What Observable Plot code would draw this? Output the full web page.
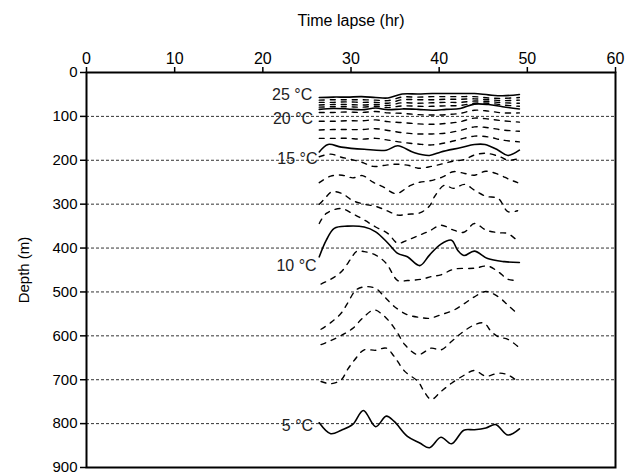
<!DOCTYPE html>
<html><head><meta charset="utf-8">
<script src="https://cdn.jsdelivr.net/npm/d3@7"></script>
<script src="https://cdn.jsdelivr.net/npm/@observablehq/plot@0.6"></script>
<style>body{margin:0;background:#fff} svg{display:block}</style>
</head><body><div id="chart"></div>
<script>
// Axis ticks
const xTicks = [0, 10, 20, 30, 40, 50, 60];
const yTicks = [0, 100, 200, 300, 400, 500, 600, 700, 800, 900];
const gridDepths = [100, 200, 300, 400, 500, 600, 700, 800];

// Isotherms 25..16 °C share the same sampling hours
const upperHours = [26.4, 28.0, 29.6, 31.2, 32.8, 34.2, 35.8, 37.6, 39.2, 40.8, 42.4, 44.0, 45.6, 47.2, 49.1];
const d25 = [57, 56, 56, 55, 57, 58, 49, 49, 48, 48, 48, 48, 51, 53, 50];
const d24 = [63, 62, 62, 62, 63, 64, 56, 56, 55, 55, 55, 55, 58, 59, 57];
const d23 = [68, 68, 67, 68, 68, 70, 62, 62, 62, 61, 61, 60, 62, 64, 63];
const d22 = [74, 73, 73, 74, 73, 75, 69, 70, 69, 68, 68, 65, 66, 69, 70];
const d21 = [79, 78, 78, 79, 77, 80, 76, 77, 77, 76, 75, 70, 70, 74, 77];
const d20 = [84, 82, 83, 85, 81, 85, 83, 84, 86, 84, 82, 72, 73, 78, 83];
const d19 = [91, 91, 90, 91, 89, 92, 93, 96, 97, 96, 93, 86, 88, 92, 92];
const d18 = [111, 111, 110, 110, 108, 112, 114, 117, 118, 116, 112, 104, 106, 110, 113];
const d17 = [131, 130, 130, 130, 128, 132, 137, 140, 140, 138, 132, 124, 126, 131, 134];
const d16 = [150, 150, 150, 152, 150, 154, 159, 163, 165, 160, 152, 145, 147, 154, 158];

// Deeper isotherms, each with its own hours
const h15 = [26.4, 27.4, 28.9, 31.5, 34.0, 35.3, 37.2, 38.9, 40.2, 42.5, 44.0, 45.2, 46.7, 47.8, 49.1];
const d15 = [181, 164, 170, 175, 177, 167, 183, 189, 181, 171, 164, 164, 177, 189, 177];
const h14 = [26.4, 27.7, 28.9, 30.2, 31.3, 32.5, 34.0, 35.2, 36.6, 37.6, 39.1, 40.4, 41.6, 42.9, 44.0, 45.3, 46.9, 47.8, 49.0];
const d14 = [192, 186, 193, 199, 205, 214, 211, 209, 212, 218, 214, 208, 202, 198, 188, 184, 192, 200, 196];
const h13 = [26.4, 27.7, 29.0, 30.2, 31.3, 32.5, 33.6, 35.1, 36.7, 37.8, 38.9, 40.4, 41.6, 42.9, 44.0, 45.3, 46.7, 48.0, 48.9];
const d13 = [251, 236, 234, 240, 235, 250, 260, 276, 258, 250, 247, 238, 226, 230, 234, 225, 232, 244, 251];
const h12 = [26.4, 27.0, 27.8, 29.0, 30.2, 31.5, 32.8, 34.2, 35.3, 36.4, 37.8, 38.9, 39.5, 40.6, 41.6, 42.9, 44.0, 45.3, 46.7, 47.8, 48.9];
const d12 = [300, 288, 272, 276, 292, 300, 305, 316, 325, 323, 320, 304, 282, 257, 264, 255, 268, 282, 287, 317, 315];
const h11 = [26.4, 27.2, 28.9, 30.2, 31.5, 32.8, 34.2, 35.3, 36.4, 37.6, 38.9, 40.2, 41.5, 42.8, 44.0, 45.3, 46.7, 47.8, 49.0];
const d11 = [344, 321, 310, 322, 336, 352, 367, 389, 382, 372, 361, 348, 358, 364, 344, 359, 365, 367, 386];
const h10 = [26.4, 27.2, 28.1, 29.6, 31.5, 32.8, 34.2, 35.3, 36.4, 37.8, 38.9, 40.2, 41.4, 42.1, 42.8, 44.0, 45.5, 47.4, 49.1];
const d10 = [420, 382, 355, 350, 352, 363, 389, 412, 420, 440, 416, 391, 382, 405, 417, 407, 424, 431, 433];
const h9 = [26.6, 27.7, 28.9, 30.0, 30.6, 31.5, 32.8, 34.0, 35.3, 36.4, 38.0, 39.1, 40.2, 41.7, 44.0, 45.5, 46.7, 47.8, 48.9];
const d9 = [482, 471, 454, 424, 408, 408, 416, 435, 474, 474, 471, 465, 461, 448, 446, 441, 454, 471, 474];
const h8 = [26.6, 27.7, 28.9, 29.6, 30.6, 31.7, 32.8, 33.8, 34.9, 36.4, 37.8, 38.9, 40.2, 41.7, 42.9, 44.0, 45.3, 46.7, 47.8, 48.9];
const d8 = [585, 570, 548, 526, 495, 488, 492, 511, 533, 552, 558, 560, 552, 541, 526, 511, 499, 511, 530, 550];
const h7 = [26.6, 27.7, 29.0, 30.2, 31.3, 32.6, 33.6, 34.5, 35.3, 36.1, 37.6, 39.1, 40.2, 41.4, 42.5, 44.0, 45.1, 45.9, 46.7, 47.8, 48.9];
const d7 = [620, 611, 598, 583, 560, 541, 552, 571, 594, 620, 643, 628, 632, 613, 594, 575, 571, 590, 602, 608, 624];
const h6 = [26.6, 27.7, 28.9, 29.6, 30.4, 31.5, 32.8, 34.0, 34.9, 36.1, 37.6, 38.3, 39.1, 40.2, 41.4, 42.9, 44.0, 45.3, 46.7, 47.8, 48.9];
const d6 = [704, 709, 700, 677, 655, 632, 633, 628, 647, 681, 704, 727, 745, 727, 708, 689, 679, 692, 685, 689, 704];
const h5 = [26.4, 27.7, 28.9, 30.2, 31.4, 32.8, 34.0, 34.9, 36.4, 37.8, 38.9, 40.2, 41.4, 42.8, 44.0, 45.3, 46.4, 47.8, 49.1];
const d5 = [798, 823, 815, 802, 770, 807, 783, 795, 829, 844, 855, 831, 846, 815, 814, 810, 802, 826, 812];

// Isotherm labels
const labelTexts = ["25 °C", "20 °C", "15 °C", "10 °C", "5 °C"];
const labelHours = [25.6, 25.7, 26.2, 26.1, 25.7];
const labelDepths = [52, 105, 196, 441, 805];

const series = [
  [25, upperHours, d25], [24, upperHours, d24], [23, upperHours, d23], [22, upperHours, d22],
  [21, upperHours, d21], [20, upperHours, d20], [19, upperHours, d19], [18, upperHours, d18],
  [17, upperHours, d17], [16, upperHours, d16], [15, h15, d15], [14, h14, d14], [13, h13, d13],
  [12, h12, d12], [11, h11, d11], [10, h10, d10], [9, h9, d9], [8, h8, d8], [7, h7, d7],
  [6, h6, d6], [5, h5, d5]
];
const rows = [];
for (const [temp, hours, depths] of series) {
  hours.forEach((h, i) => rows.push({temp, hour: h, depth: depths[i], solid: temp % 5 === 0}));
}
const labels = labelTexts.map((t, i) => ({text: t, hour: labelHours[i], depth: labelDepths[i]}));

const chart = Plot.plot({
  width: 628, height: 475,
  marginTop: 72, marginLeft: 86, marginRight: 13, marginBottom: 8,
  style: {fontFamily: "'Liberation Sans', Arial, sans-serif", fontSize: "16px", color: "black", background: "white"},
  x: {domain: [0, 60]},
  y: {domain: [0, 900], reverse: true},
  marks: [
    Plot.ruleY(gridDepths, {stroke: "#333", strokeWidth: 1, strokeDasharray: "3,2"}),
    Plot.line(rows.filter(d => !d.solid), {x: "hour", y: "depth", z: "temp", stroke: "black", strokeWidth: 1.4, strokeDasharray: "5,6", curve: "catmull-rom"}),
    Plot.line(rows.filter(d => d.solid), {x: "hour", y: "depth", z: "temp", stroke: "black", strokeWidth: 1.6, curve: "catmull-rom"}),
    Plot.text(labels, {x: "hour", y: "depth", text: "text", textAnchor: "end", fontSize: 16, fill: "#222"}),
    Plot.axisX(xTicks, {anchor: "top", tickSize: 6, tickPadding: 3, strokeWidth: 1.5, fontSize: 16,
      label: "Time lapse (hr)", labelAnchor: "center", labelOffset: 58, labelArrow: "none"}),
    Plot.axisY(yTicks, {anchor: "left", tickSize: 6, tickPadding: 3, strokeWidth: 1.5, fontSize: 15,
      label: "Depth (m)", labelAnchor: "center", labelOffset: 68, labelArrow: "none"}),
    Plot.frame({stroke: "black", strokeWidth: 2})
  ]
});
document.getElementById("chart").appendChild(chart);
</script>
</body></html>
